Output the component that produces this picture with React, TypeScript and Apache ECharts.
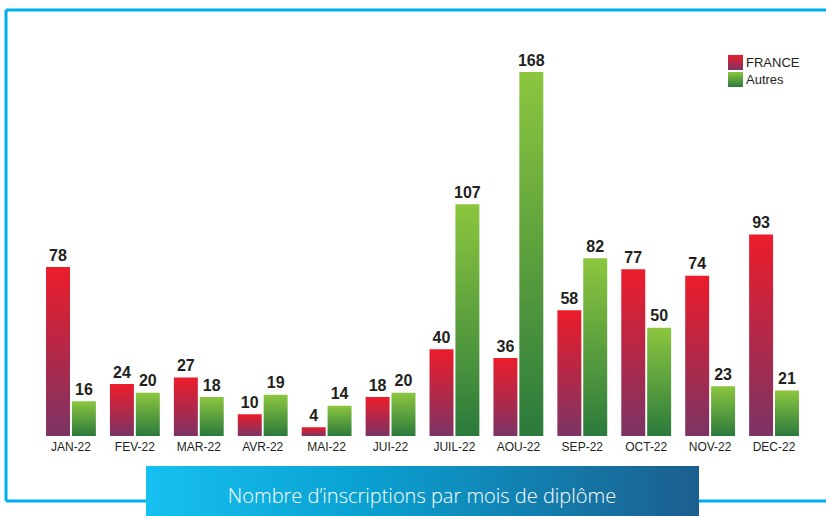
import React, { useEffect, useRef } from "react";
import * as echarts from "echarts";

const categories = ["JAN-22", "FEV-22", "MAR-22", "AVR-22", "MAI-22", "JUI-22", "JUIL-22", "AOU-22", "SEP-22", "OCT-22", "NOV-22", "DEC-22"];
const franceValues = [78, 24, 27, 10, 4, 18, 40, 36, 58, 77, 74, 93];
const autresValues = [16, 20, 18, 19, 14, 20, 107, 168, 82, 50, 23, 21];
const seriesNames = ["FRANCE", "Autres"];
const bannerTitle = "Nombre d\u2019inscriptions par mois de diplôme";

export default function App() {
  const ref = useRef<HTMLDivElement>(null);
  useEffect(() => {
    if (!ref.current) return;
    const chart = echarts.init(ref.current, null, { renderer: "svg" });
    const redGrad = new echarts.graphic.LinearGradient(0, 0, 0, 1, [
      { offset: 0, color: "#ec1c2b" },
      { offset: 1, color: "#7b3464" },
    ]);
    const greenGrad = new echarts.graphic.LinearGradient(0, 0, 0, 1, [
      { offset: 0, color: "#8cc63f" },
      { offset: 1, color: "#2b7a3c" },
    ]);
    const labelStyle = {
      show: true,
      position: "top" as const,
      distance: 4,
      fontFamily: "Liberation Sans, Arial, sans-serif",
      fontWeight: "bold" as const,
      fontSize: 16,
      color: "#231f20",
    };
    chart.setOption({
      animation: false,
      backgroundColor: "#ffffff",
      grid: { left: 39, right: 20, top: 72, bottom: 80 },
      legend: {
        orient: "vertical",
        left: 723,
        top: 50,
        itemWidth: 15,
        itemHeight: 15,
        itemGap: 2,
        icon: "rect",
        textStyle: { fontFamily: "Liberation Sans, Arial, sans-serif", fontSize: 13, color: "#231f20", padding: [0, 0, 0, -2] },
        data: seriesNames,
      },
      xAxis: {
        type: "category",
        data: categories,
        axisLine: { show: false },
        axisTick: { show: false },
        axisLabel: {
          margin: 5,
          fontFamily: "Liberation Sans Narrow, Liberation Sans, Arial, sans-serif",
          fontSize: 12,
          color: "#231f20",
        },
      },
      yAxis: {
        type: "value",
        min: 0,
        max: 168,
        show: false,
        splitLine: { show: false },
      },
      series: [
        {
          name: seriesNames[0],
          type: "bar",
          data: franceValues,
          itemStyle: { color: redGrad },
          barGap: "8%",
          barCategoryGap: "22%",
          label: labelStyle,
        },
        {
          name: seriesNames[1],
          type: "bar",
          data: autresValues,
          itemStyle: { color: greenGrad },
          barGap: "8%",
          barCategoryGap: "22%",
          label: labelStyle,
        },
      ],
      graphic: [
        { type: "line", shape: { x1: 6, y1: 10, x2: 826, y2: 10 }, style: { stroke: "#00aeef", lineWidth: 3 } },
        { type: "line", shape: { x1: 6, y1: 10, x2: 6, y2: 501 }, style: { stroke: "#00aeef", lineWidth: 3 } },
        { type: "line", shape: { x1: 6, y1: 501, x2: 826, y2: 501 }, style: { stroke: "#00aeef", lineWidth: 3 } },
        {
          type: "rect",
          shape: { x: 146, y: 466, width: 553, height: 50 },
          style: {
            fill: new echarts.graphic.LinearGradient(0, 0, 1, 0, [
              { offset: 0, color: "#16c0f0" },
              { offset: 0.4, color: "#0aa0d0" },
              { offset: 1, color: "#1b5e8e" },
            ]),
          },
        },
        {
          type: "text",
          x: 422,
          y: 495,
          style: {
            text: bannerTitle,
            fill: "#ffffff",
            fontFamily: "Open Sans, Liberation Sans, sans-serif",
            fontSize: 20,
            fontWeight: 300,
            align: "center",
            verticalAlign: "middle",
          },
        },
      ],
    });
    return () => chart.dispose();
  }, []);
  return <div ref={ref} style={{ position: "fixed", left: 0, top: 0, width: 826, height: 516 }} />;
}
